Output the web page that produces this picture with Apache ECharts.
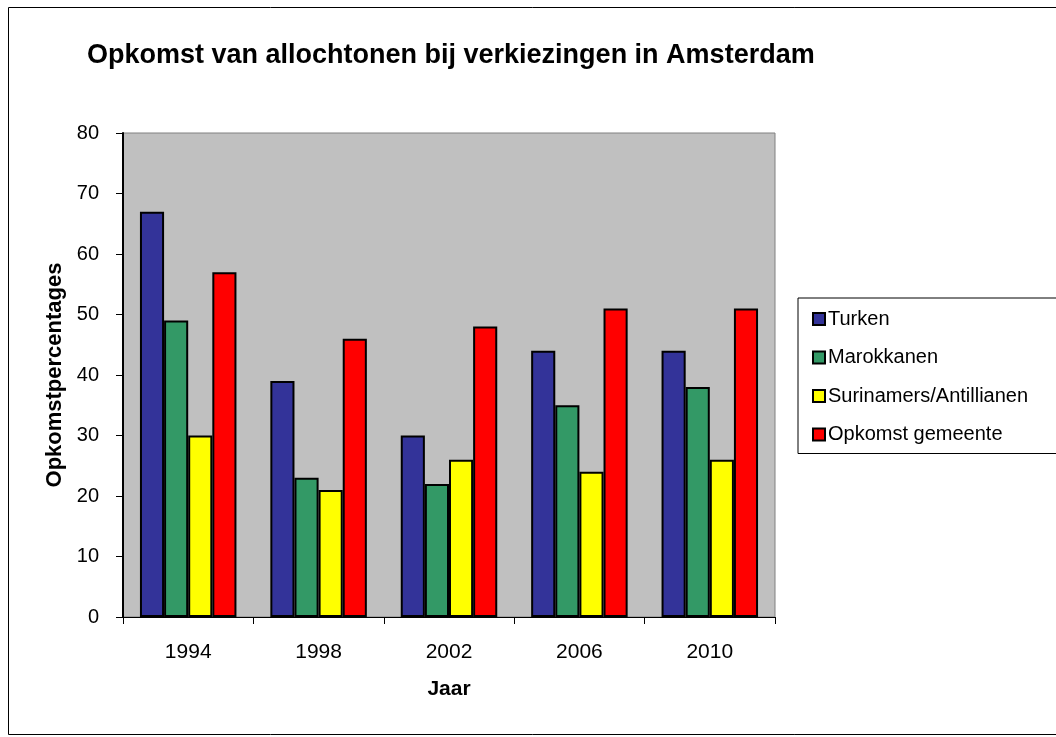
<!DOCTYPE html>
<html>
<head>
<meta charset="utf-8">
<script src="https://cdn.jsdelivr.net/npm/echarts@6/dist/echarts.min.js"></script>
<style>
	html, body { margin: 0; padding: 0; background: #fff; }
	#chart { width: 1056px; height: 737px; }
</style>
</head>
<body>
<div id="chart"></div>
<script>
	// jaren en opkomstpercentages
	var years = ['1994', '1998', '2002', '2006', '2010'];
	var turken = [67, 39, 30, 44, 44];
	var marokkanen = [49, 23, 22, 35, 38];
	var surinamers = [30, 21, 26, 24, 26];
	var gemeente = [57, 46, 48, 51, 51];
	var seriesNames = ['Turken', 'Marokkanen', 'Surinamers/Antillianen', 'Opkomst gemeente'];
	var seriesColors = ['#333399', '#339966', '#FFFF00', '#FF0000'];
	var seriesData = [turken, marokkanen, surinamers, gemeente];

	var chart = echarts.init(document.getElementById('chart'));
	var font = 'Liberation Sans, Arial, sans-serif';

	var option = {
		animation: false,
		textStyle: { fontFamily: font },
		title: {
			text: 'Opkomst van allochtonen bij verkiezingen in Amsterdam',
			left: 82,
			top: 37,
			textStyle: { fontSize: 27, fontWeight: 'bold', color: '#000', fontFamily: font }
		},
		graphic: [{
			type: 'rect',
			shape: { x: 8.5, y: 7.5, width: 1060, height: 727 },
			style: { fill: 'none', stroke: '#000', lineWidth: 1 },
			silent: true,
			z: -1
		}],
		legend: {
			orient: 'vertical',
			left: 798,
			top: 298,
			width: 257,
			padding: [11, 29, 9, 14],
			borderColor: '#000',
			borderWidth: 1,
			itemGap: 18.5,
			itemWidth: 12,
			itemHeight: 12,
			icon: 'rect',
			textStyle: { fontSize: 20, color: '#000', fontFamily: font, padding: [0, 0, 0, -2] },
			data: seriesNames
		},
		grid: {
			left: 123,
			right: 281,
			top: 133,
			bottom: 120,
			show: true,
			backgroundColor: '#C0C0C0',
			borderColor: '#808080',
			borderWidth: 1
		},
		xAxis: {
			type: 'category',
			data: years,
			name: 'Jaar',
			nameLocation: 'middle',
			nameGap: 62,
			nameTextStyle: { fontSize: 21, fontWeight: 'bold', color: '#000' },
			axisLine: { lineStyle: { color: '#000', width: 1 } },
			axisTick: { show: true, length: 7, inside: false, lineStyle: { color: '#000' } },
			axisLabel: { fontSize: 21, color: '#000', margin: 25 }
		},
		yAxis: {
			type: 'value',
			min: 0,
			max: 80,
			interval: 10,
			name: 'Opkomstpercentages',
			nameLocation: 'middle',
			nameGap: 57,
			nameTextStyle: { fontSize: 22, fontWeight: 'bold', color: '#000' },
			axisLine: { show: true, lineStyle: { color: '#000', width: 2 } },
			axisTick: { show: true, length: 7, lineStyle: { color: '#000', width: 1 } },
			axisLabel: { fontSize: 20, color: '#000', margin: 24 },
			splitLine: { show: false }
		},
		series: seriesNames.map(function (name, i) {
			return {
				name: name,
				type: 'bar',
				data: seriesData[i],
				barGap: '0%',
				barCategoryGap: '26%',
				itemStyle: {
					color: seriesColors[i],
					borderColor: '#000',
					borderWidth: 2
				}
			};
		})
	};
	chart.setOption(option);
</script>
</body>
</html>
